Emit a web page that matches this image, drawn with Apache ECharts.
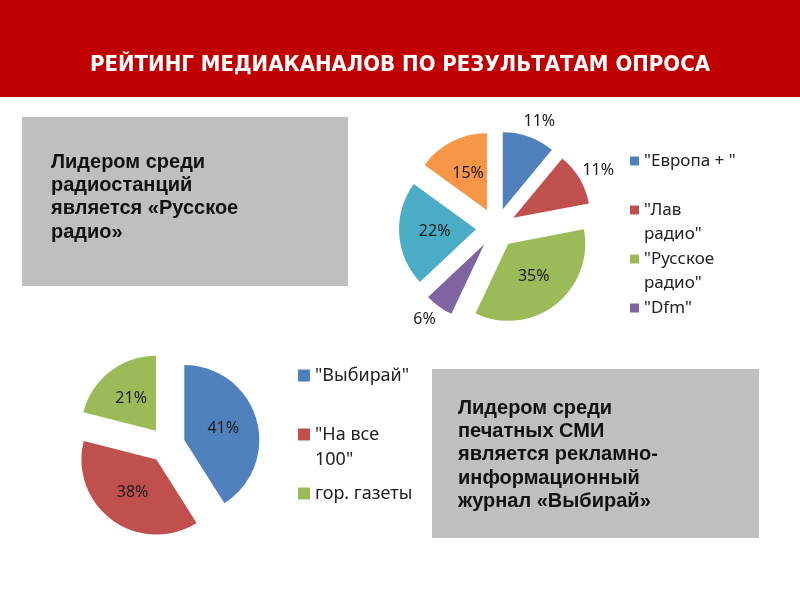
<!DOCTYPE html>
<html>
<head>
<meta charset="utf-8">
<script src="https://cdn.jsdelivr.net/npm/echarts@6/dist/echarts.min.js"></script>
<style>
  html, body { margin: 0; padding: 0; background: #fff; }
  #main { width: 800px; height: 600px; }
</style>
</head>
<body>
<div id="main"></div>
<script>
var titleText = 'РЕЙТИНГ МЕДИАКАНАЛОВ ПО РЕЗУЛЬТАТАМ ОПРОСА';

// радиостанции (последние два сектора в легенде не подписаны)
var radioNames = ['"Европа + "', '"Лав радио"', '"Русское радио"', '"Dfm"', 'other1', 'other2'];
var radioValues = [11, 11, 35, 6, 22, 15];
var radioColors = ['#4F81BD', '#C0504D', '#9BBB59', '#8064A2', '#4BACC6', '#F79646'];
var radioLabelPos = ['outside', 'outside', 'inside', 'outside', 'inside', 'inside'];
var radioLegend = ['"Европа + "', '"Лав\nрадио"', '"Русское\nрадио"', '"Dfm"'];

// печатные СМИ
var pressNames = ['"Выбирай"', '"На все 100"', 'гор. газеты'];
var pressValues = [41, 38, 21];
var pressColors = ['#4F81BD', '#C0504D', '#9BBB59'];
var pressLegend = ['"Выбирай"', '"На все\n100"', 'гор. газеты'];

var box1Lines = ['Лидером среди', 'радиостанций', 'является «Русское', 'радио»'];
var box2Lines = ['Лидером среди', 'печатных СМИ', 'является рекламно-', 'информационный', 'журнал «Выбирай»'];

var chart = echarts.init(document.getElementById('main'));

function pieData(names, values, colors, pos) {
  return names.map(function (n, i) {
    var item = { name: n, value: values[i], selected: true, itemStyle: { color: colors[i] } };
    if (pos) item.label = { position: pos[i] };
    return item;
  });
}

// icon stays on the first line: pad every legend entry to 3 lines
function legendFmt(labels, names) {
  return function (n) {
    var l = labels[names.indexOf(n)];
    return l.indexOf('\n') >= 0 ? ' \n' + l : ' \n' + l + '\n ';
  };
}

function boxText(lines, x, y0, step) {
  return lines.map(function (t, i) {
    return {
      type: 'text', left: x, top: y0 + i * step, silent: true,
      style: { text: t, fill: '#111', font: 'bold 20px "Liberation Sans", Arial, sans-serif' }
    };
  });
}

var option = {
  animation: false,
  title: {
    text: titleText,
    left: 'center', top: 49,
    textStyle: { color: '#fff', fontSize: 22, fontWeight: 'bold', fontFamily: '"DejaVu Sans Condensed", sans-serif' }
  },
  graphic: [
    { type: 'rect', shape: { x: 0, y: 0, width: 800, height: 97 }, style: { fill: '#C00000' }, z: -10, silent: true },
    { type: 'rect', shape: { x: 22, y: 117, width: 326, height: 169 }, style: { fill: '#BFBFBF' }, z: -10, silent: true },
    { type: 'rect', shape: { x: 432, y: 369, width: 327, height: 169 }, style: { fill: '#BFBFBF' }, z: -10, silent: true }
  ].concat(boxText(box1Lines, 51, 152, 23.4)).concat(boxText(box2Lines, 458, 398, 23.4)),
  legend: [
    {
      orient: 'vertical', left: 625, top: 120,
      itemWidth: 9, itemHeight: 9, itemGap: -23,
      icon: 'rect',
      data: radioNames.slice(0, 4),
      formatter: legendFmt(radioLegend, radioNames),
      textStyle: { fontSize: 17, lineHeight: 24, color: '#222', fontFamily: '"Noto Sans", sans-serif' }
    },
    {
      orient: 'vertical', left: 293, top: 333,
      itemWidth: 12, itemHeight: 12, itemGap: -16,
      icon: 'rect',
      data: pressNames,
      formatter: legendFmt(pressLegend, pressNames),
      textStyle: { fontSize: 18, lineHeight: 25, color: '#222', fontFamily: '"Noto Sans", sans-serif' }
    }
  ],
  series: [
    {
      type: 'pie',
      center: [496, 228],
      radius: 77,
      startAngle: 90,
      clockwise: true,
      selectedMode: 'multiple',
      selectedOffset: 20,
      legendHoverLink: false,
      data: pieData(radioNames, radioValues, radioColors, radioLabelPos),
      label: {
        formatter: '{d}%',
        fontSize: 16, color: '#1a1a1a',
        fontFamily: '"Noto Sans", sans-serif'
      },
      labelLine: { show: true, length: 16, length2: 0, lineStyle: { opacity: 0 } },
      labelLayout: function (p) {
        if (radioLabelPos[p.dataIndex] !== 'outside' || !p.labelLinePoints) return {};
        var pts = p.labelLinePoints;
        var e = pts[pts.length - 1];
        return { x: e[0] - 4, y: e[1] + 2, align: 'center', verticalAlign: 'middle' };
      },
      emphasis: { disabled: true }
    },
    {
      type: 'pie',
      center: [167, 445],
      radius: 75,
      startAngle: 90,
      clockwise: true,
      selectedMode: 'multiple',
      selectedOffset: 18,
      legendHoverLink: false,
      data: pieData(pressNames, pressValues, pressColors),
      label: {
        position: 'inside',
        formatter: '{d}%',
        fontSize: 16, color: '#1a1a1a',
        fontFamily: '"Noto Sans", sans-serif'
      },
      emphasis: { disabled: true }
    }
  ]
};
chart.setOption(option);
</script>
</body>
</html>
